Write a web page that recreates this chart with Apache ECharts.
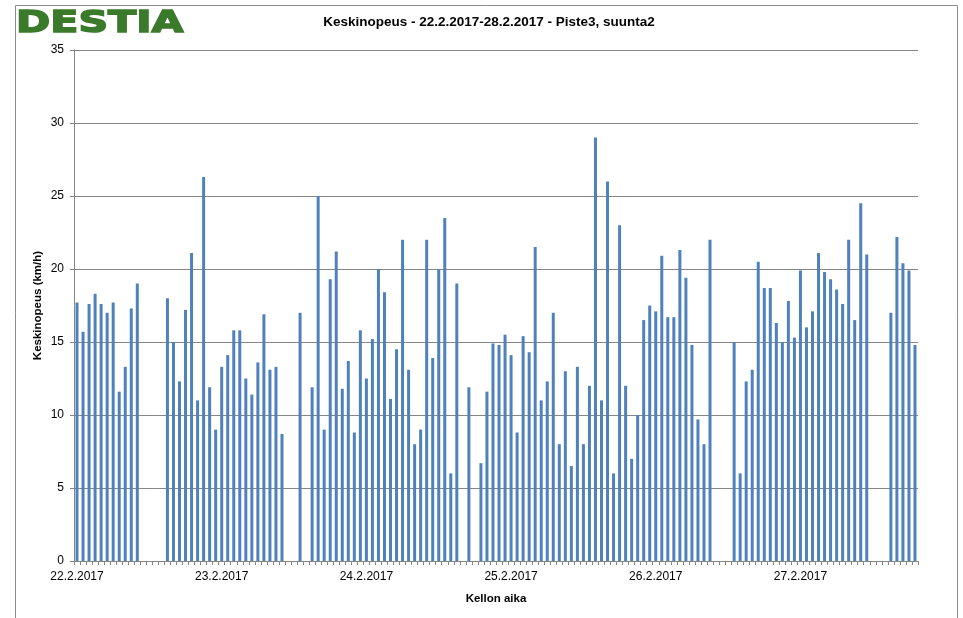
<!DOCTYPE html>
<html>
<head>
<meta charset="utf-8">
<script src="https://cdn.jsdelivr.net/npm/echarts@6/dist/echarts.min.js"></script>
<style>
  html, body { margin: 0; padding: 0; background: #fff; }
  #chart { width: 963px; height: 618px; }
</style>
</head>
<body>
<div id="chart"></div>
<script>
// hourly mean speed (km/h), one array per day, null = no data for that hour
const days = ['22.2.2017', '23.2.2017', '24.2.2017', '25.2.2017', '26.2.2017', '27.2.2017'];
const speed22 = [17.7, 15.7, 17.6, 18.3, 17.6, 17.0, 17.7, 11.6, 13.3, 17.3, 19.0, null,
                 null, null, null, 18.0, 15.0, 12.3, 17.2, 21.1, 11.0, 26.3, 11.9, 9.0];
const speed23 = [13.3, 14.1, 15.8, 15.8, 12.5, 11.4, 13.6, 16.9, 13.1, 13.3, 8.7, null,
                 null, 17.0, null, 11.9, 25.0, 9.0, 19.3, 21.2, 11.8, 13.7, 8.8, 15.8];
const speed24 = [12.5, 15.2, 20.0, 18.4, 11.1, 14.5, 22.0, 13.1, 8.0, 9.0, 22.0, 13.9,
                 20.0, 23.5, 6.0, 19.0, null, 11.9, null, 6.7, 11.6, 14.9, 14.8, 15.5];
const speed25 = [14.1, 8.8, 15.4, 14.3, 21.5, 11.0, 12.3, 17.0, 8.0, 13.0, 6.5, 13.3,
                 8.0, 12.0, 29.0, 11.0, 26.0, 6.0, 23.0, 12.0, 7.0, 10.0, 16.5, 17.5];
const speed26 = [17.1, 20.9, 16.7, 16.7, 21.3, 19.4, 14.8, 9.7, 8.0, 22.0, null, null,
                 null, 15.0, 6.0, 12.3, 13.1, 20.5, 18.7, 18.7, 16.3, 15.0, 17.8, 15.3];
const speed27 = [19.9, 16.0, 17.1, 21.1, 19.8, 19.3, 18.6, 17.6, 22.0, 16.5, 24.5, 21.0,
                 null, null, null, 17.0, 22.2, 20.4, 19.9, 14.8];

const speeds = [].concat(speed22, speed23, speed24, speed25, speed26, speed27);
const categories = [];
days.forEach(d => { for (let h = 0; h < 24; h++) categories.push(d + ' ' + h + ':00'); });
categories.length = speeds.length;

const chart = echarts.init(document.getElementById('chart'));
const font = '"Liberation Sans", Arial, sans-serif';

chart.setOption({
  animation: false,
  backgroundColor: '#fff',
  title: {
    text: 'Keskinopeus - 22.2.2017-28.2.2017 - Piste3, suunta2',
    left: 484, top: 10, textAlign: 'center',
    textStyle: { fontFamily: font, fontSize: 13.5, fontWeight: 'bold', color: '#000' }
  },
  graphic: [
    {
      type: 'rect', left: 13, top: 3,
      shape: { width: 942, height: 640 },
      style: { fill: 'none', stroke: '#8c8c8c', lineWidth: 1 }
    },
    {
      type: 'text', x: 16, y: 8, scaleX: 1.33,
      style: {
        text: 'DESTIA', font: 'bold 31px "DejaVu Sans", sans-serif',
        fill: '#3b7a2a', stroke: '#3b7a2a', lineWidth: 1.5
      }
    }
  ],
  grid: { left: 74, right: 45, top: 50, bottom: 57 },
  xAxis: {
    type: 'category',
    data: categories,
    name: 'Kellon aika',
    nameLocation: 'middle',
    nameGap: 32,
    nameTextStyle: { fontFamily: font, fontSize: 11.5, fontWeight: 'bold', color: '#000' },
    axisLine: { lineStyle: { color: '#868686' } },
    axisTick: { show: true, interval: 0, length: 4, lineStyle: { color: '#868686' } },
    axisLabel: {
      interval: 23,
      margin: 10,
      fontFamily: font, fontSize: 12, color: '#000',
      formatter: v => v.split(' ')[0]
    },
    splitLine: { show: false }
  },
  yAxis: {
    type: 'value',
    min: 0, max: 35, interval: 5,
    name: 'Keskinopeus (km/h)',
    nameLocation: 'middle',
    nameGap: 30,
    nameMoveOverlap: false,
    nameTextStyle: { fontFamily: font, fontSize: 11.5, fontWeight: 'bold', color: '#000' },
    axisLine: { show: true, lineStyle: { color: '#868686' } },
    axisTick: { show: true, length: 4, lineStyle: { color: '#868686' } },
    axisLabel: { fontFamily: font, fontSize: 12, color: '#000', margin: 10 },
    splitLine: { lineStyle: { color: '#868686', width: 1 } }
  },
  series: [{
    type: 'bar',
    data: speeds,
    barWidth: 3,
    itemStyle: { color: '#4f81bd' }
  }]
});
</script>
</body>
</html>
